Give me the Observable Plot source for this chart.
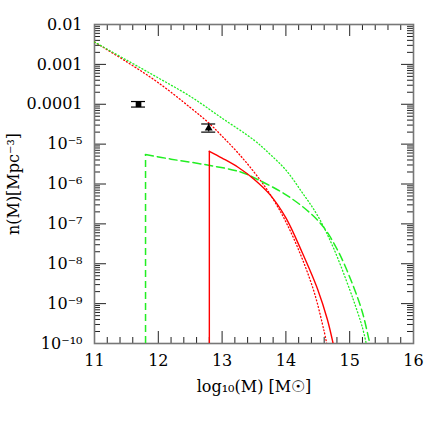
<!DOCTYPE html>
<html>
<head>
<meta charset="utf-8">
<script src="https://cdn.jsdelivr.net/npm/d3@7"></script>
<script src="https://cdn.jsdelivr.net/npm/@observablehq/plot@0.6"></script>
<style>
  html, body { margin: 0; padding: 0; background: white; }
  #chart { width: 436px; height: 436px; }
</style>
</head>
<body>
<div id="chart"></div>
<script>
// ---- tick labels ----
const xTicks = [11, 12, 13, 14, 15, 16];
const xTickLabels = ["11", "12", "13", "14", "15", "16"];
const yTicks = [1e-2, 1e-3, 1e-4, 1e-5, 1e-6, 1e-7, 1e-8, 1e-9, 1e-10];
const yTickLabels = ["0.01", "0.001", "0.0001", "10⁻⁵", "10⁻⁶", "10⁻⁷", "10⁻⁸", "10⁻⁹", "10⁻¹⁰"];
const xLabel = "log₁₀(M) [M☉]";
const yLabel = "n(M)[Mpc⁻³]";

// ---- series (log10 M, n(M)) ----
const redDottedM = [11.0, 11.5, 12.0, 12.5, 12.8, 13.0, 13.25, 13.5, 13.75, 14.0, 14.25, 14.45, 14.6, 14.64];
const redDottedN = [3.63e-3, 1.17e-3, 3.47e-4, 8.3e-5, 3.3e-5, 1.58e-5, 6.0e-6, 2.0e-6, 5.6e-7, 1.12e-7, 1.41e-8, 1.78e-9, 2.0e-10, 1e-10];

const greenDottedM = [11.0, 11.5, 12.0, 12.5, 13.0, 13.5, 13.75, 14.0, 14.25, 14.5, 14.75, 15.0, 15.1, 15.2, 15.26];
const greenDottedN = [3.63e-3, 1.29e-3, 4.57e-4, 1.58e-4, 4.47e-5, 1.26e-5, 5.6e-6, 2.24e-6, 6.3e-7, 1.58e-7, 2.4e-8, 2.24e-9, 7.9e-10, 2.5e-10, 1e-10];

const greenDashedM = [11.8, 12.2, 12.79, 13.29, 13.6, 13.97, 14.33, 14.59, 14.83, 15.04, 15.2, 15.31, 15.32];
const greenDashedN = [5.5e-6, 4.2e-6, 2.95e-6, 2.0e-6, 1.2e-6, 5.75e-7, 2.2e-7, 8.3e-8, 1.9e-8, 3.2e-9, 6.0e-10, 1.12e-10, 1e-10];

const redSolidM = [12.8, 13.0, 13.25, 13.5, 13.75, 14.0, 14.25, 14.5, 14.65, 14.74];
const redSolidN = [6.6e-6, 4.47e-6, 2.63e-6, 1.32e-6, 5.4e-7, 1.41e-7, 2.0e-8, 2.24e-9, 4.0e-10, 1e-10];

// ---- observed points ----
const obsM = [11.69, 12.79];
const obsN = [1.0e-4, 2.5e-5];
const obsLo = [8.5e-5, 2.0e-5];
const obsHi = [1.17e-4, 3.2e-5];
const obsSymbol = ["square", "triangle"];
const obsR = [5.5, 4.6];

const toRows = (ms, ns) => ms.map((m, i) => ({m, n: ns[i]}));
const redDotted = toRows(redDottedM, redDottedN);
const greenDotted = toRows(greenDottedM, greenDottedN);
const greenDashed = toRows(greenDashedM, greenDashedN);
const redSolid = toRows(redSolidM, redSolidN);
const obs = obsM.map((m, i) => ({m, n: obsN[i], lo: obsLo[i], hi: obsHi[i], s: obsSymbol[i], r: obsR[i]}));

const yDomain = [1e-10, 1e-2];
const xMinor = d3.range(11, 16.0001, 0.2).map(v => +v.toFixed(1)).filter(v => !xTicks.includes(v));
const yMinor = [];
for (let e = -10; e < -2; e++) for (let k = 2; k <= 9; k++) yMinor.push(k * Math.pow(10, e));

const W = 436, H = 436, mL = 94, mR = 23, mT = 24, mB = 93;
const innerW = W - mL - mR, innerH = H - mT - mB;
const majorLen = 12, minorLen = 6;
const tickColor = "#222";
const red = "#ff0000";
const green = "#22ee22";

const chart = Plot.plot({
  width: W, height: H,
  marginLeft: mL, marginRight: mR, marginTop: mT, marginBottom: mB,
  x: {domain: [11, 16], axis: null},
  y: {type: "log", domain: yDomain, axis: null},
  style: {fontFamily: "'DejaVu Serif', serif", fontSize: "16px", background: "white", color: "black"},
  marks: [
    // ticks (inward) on all four sides
    Plot.ruleX(xTicks, {x: d => d, insetTop: innerH - majorLen, stroke: tickColor}),
    Plot.ruleX(xTicks, {x: d => d, insetBottom: innerH - majorLen, stroke: tickColor}),
    Plot.ruleX(xMinor, {x: d => d, insetTop: innerH - minorLen, stroke: tickColor}),
    Plot.ruleX(xMinor, {x: d => d, insetBottom: innerH - minorLen, stroke: tickColor}),
    Plot.ruleY(yTicks, {y: d => d, insetRight: innerW - majorLen, stroke: tickColor}),
    Plot.ruleY(yTicks, {y: d => d, insetLeft: innerW - majorLen, stroke: tickColor}),
    Plot.ruleY(yMinor, {y: d => d, insetRight: innerW - minorLen, stroke: tickColor}),
    Plot.ruleY(yMinor, {y: d => d, insetLeft: innerW - minorLen, stroke: tickColor}),
    Plot.frame({stroke: "#777", strokeWidth: 1.6}),

    // model curves
    Plot.line(redDotted, {x: "m", y: "n", stroke: red, strokeWidth: 1.3, strokeDasharray: "1,2.4", curve: "catmull-rom", clip: true}),
    Plot.line(greenDotted, {x: "m", y: "n", stroke: green, strokeWidth: 1.3, strokeDasharray: "1,2.4", curve: "catmull-rom", clip: true}),
    Plot.ruleX([greenDashed[0]], {x: "m", y1: () => yDomain[0], y2: "n", stroke: green, strokeWidth: 1.5, strokeDasharray: "7,4"}),
    Plot.line(greenDashed, {x: "m", y: "n", stroke: green, strokeWidth: 1.5, strokeDasharray: "8,4", curve: "catmull-rom", clip: true}),
    Plot.ruleX([redSolid[0]], {x: "m", y1: () => yDomain[0], y2: "n", stroke: red, strokeWidth: 1.4}),
    Plot.line(redSolid, {x: "m", y: "n", stroke: red, strokeWidth: 1.4, curve: "catmull-rom", clip: true}),

    // observations with error bars
    Plot.ruleX(obs, {x: "m", y1: "lo", y2: "hi", stroke: "black", strokeWidth: 1.2}),
    Plot.ruleY(obs, {y: "lo", x1: "m", x2: "m", insetLeft: -7, insetRight: -7, stroke: "black", strokeWidth: 1.2}),
    Plot.ruleY(obs, {y: "hi", x1: "m", x2: "m", insetLeft: -7, insetRight: -7, stroke: "black", strokeWidth: 1.2}),
    Plot.dot(obs, {x: "m", y: "n", symbol: "s", r: "r", fill: "black", stroke: "none"}),

    // tick labels
    Plot.text(yTicks, {y: d => d, text: (d, i) => yTickLabels[i], frameAnchor: "left", textAnchor: "end", lineAnchor: "middle", dx: -12, fontSize: 16, fill: "black"}),
    Plot.text(xTicks, {x: d => d, text: (d, i) => xTickLabels[i], frameAnchor: "bottom", textAnchor: "middle", lineAnchor: "middle", dy: 17, fontSize: 16, fill: "black"}),

    // axis titles
    Plot.text([xLabel], {text: d => d, frameAnchor: "bottom", textAnchor: "middle", lineAnchor: "middle", dy: 43, fontSize: 16, fill: "black"}),
    Plot.text([yLabel], {text: d => d, frameAnchor: "left", textAnchor: "middle", lineAnchor: "middle", dx: -81, rotate: -90, fontSize: 16, fill: "black"})
  ]
});
chart.style.display = "block";
document.getElementById("chart").appendChild(chart);
</script>
</body>
</html>
